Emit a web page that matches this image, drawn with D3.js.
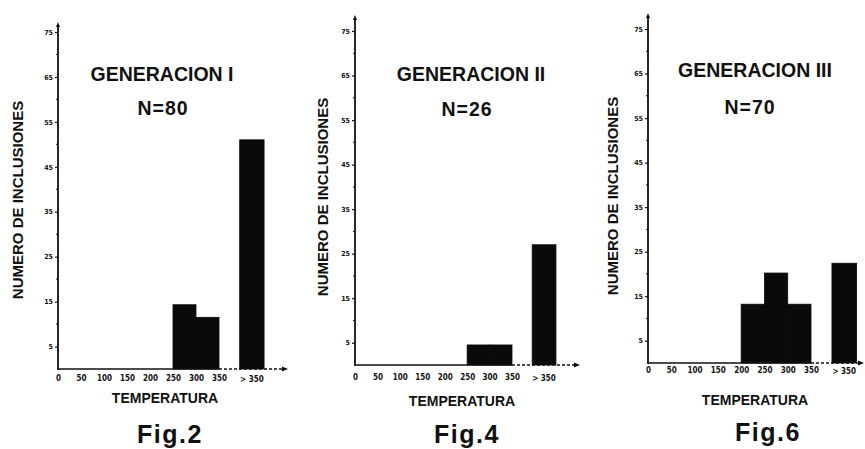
<!DOCTYPE html>
<html>
<head>
<meta charset="utf-8">
<script src="https://cdn.jsdelivr.net/npm/d3@7"></script>
<style>
  html, body { margin: 0; padding: 0; background: #fff; }
  svg { display: block; }
  text { font-family: Arial, "Liberation Sans", Helvetica, sans-serif; fill: #111; }
</style>
</head>
<body>
<svg id="chart" width="865" height="449"></svg>
<script>
// ---------- data ----------
const titles = ["GENERACION I", "GENERACION II", "GENERACION III"];
const nLabels = ["N=80", "N=26", "N=70"];
const figLabels = ["Fig.2", "Fig.4", "Fig.6"];
const xTickValues = [0, 50, 100, 150, 200, 250, 300, 350];
const xTickLabels = ["0", "50", "100", "150", "200", "250", "300", "350"];
const overLabel = "> 350";
const yTickValues = [5, 15, 25, 35, 45, 55, 65, 75];
const yMinorValues = [10, 20, 30, 40, 50, 60, 70];
const bins = ["200-250", "250-300", "300-350", ">350"];
const binStart = [200, 250, 300, 395];
const binEnd = [250, 300, 350, 448];
const gen1 = [0, 14.3, 11.5, 51];
const gen2 = [0, 4.5, 4.5, 27];
const gen3 = [13.2, 20.2, 13.2, 22.4];
const series = [gen1, gen2, gen3];
const yAxisTitle = "NUMERO DE INCLUSIONES";
const xAxisTitle = "TEMPERATURA";

// ---------- layout (pixels) ----------
const layout = [
  { x0: 58, x350: 219, yBase: 369, y75: 32, yTop: 22, xEnd: 288, title: [162, 81], n: [163, 115], ylab: [23, 200], xlab: [165, 403], fig: [170, 443], tickY: 382 },
  { x0: 355, x350: 512, yBase: 365, y75: 31, yTop: 15, xEnd: 580, title: [471, 81], n: [467, 116], ylab: [328, 197], xlab: [462, 406], fig: [467, 443], tickY: 381 },
  { x0: 648, x350: 811, yBase: 363, y75: 29, yTop: 13, xEnd: 864, title: [755, 77], n: [750, 114], ylab: [618, 196], xlab: [755, 405], fig: [768, 441], tickY: 374 }
];

const svg = d3.select("#chart");
svg.append("rect").attr("width", 865).attr("height", 449).attr("fill", "#fff");

layout.forEach((L, i) => {
  const g = svg.append("g");
  const x = d3.scaleLinear().domain([0, 350]).range([L.x0, L.x350]);
  const y = d3.scaleLinear().domain([0, 75]).range([L.yBase, L.y75]);
  const data = series[i];

  // bars
  g.selectAll("rect.bar")
    .data(bins.map((b, k) => ({ b, v: data[k], s: binStart[k], e: binEnd[k] })).filter(d => d.v > 0))
    .join("rect")
    .attr("class", "bar")
    .attr("x", d => x(d.s))
    .attr("width", d => x(d.e) - x(d.s))
    .attr("y", d => y(d.v))
    .attr("height", d => y(0) - y(d.v))
    .attr("fill", "#0a0a0a")
    .attr("stroke", "#0a0a0a")
    .attr("stroke-width", 0.8);

  // x axis baseline
  g.append("line")
    .attr("x1", L.x0).attr("x2", x(350))
    .attr("y1", L.yBase).attr("y2", L.yBase)
    .attr("stroke", "#111").attr("stroke-width", 1.6);
  g.append("line")
    .attr("x1", x(350)).attr("x2", L.xEnd - 4)
    .attr("y1", L.yBase).attr("y2", L.yBase)
    .attr("stroke", "#111").attr("stroke-width", 1.4)
    .attr("stroke-dasharray", "3,2");
  g.append("path")
    .attr("d", `M${L.xEnd},${L.yBase} l-6,-2.5 l0,5 z`)
    .attr("fill", "#111");

  // x axis ticks via d3 axis
  const xAxis = d3.axisBottom(x).tickValues(xTickValues)
    .tickFormat((d, k) => xTickLabels[k]).tickSize(0).tickPadding(0);
  const xa = g.append("g").attr("transform", `translate(0,${L.tickY - 7})`).call(xAxis);
  xa.select(".domain").remove();
  xa.selectAll("text")
    .attr("dy", "0.71em")
    .style("font-size", "8px").style("font-weight", "700")
    .style("font-family", "'DejaVu Sans Condensed', 'Liberation Sans Narrow', Arial, sans-serif")
    .attr("fill", "#111");
  g.append("text")
    .attr("x", x((binStart[3] + binEnd[3]) / 2))
    .attr("y", L.tickY)
    .attr("text-anchor", "middle")
    .style("font-size", "8px").style("font-weight", "700")
    .style("font-family", "'DejaVu Sans Condensed', 'Liberation Sans Narrow', Arial, sans-serif")
    .text(overLabel);

  // y axis
  const yAxis = d3.axisLeft(y).tickValues(yTickValues).tickSize(3).tickPadding(2);
  const ya = g.append("g").attr("transform", `translate(${L.x0},0)`).call(yAxis);
  ya.select(".domain").remove();
  ya.selectAll("line").attr("stroke", "#111").attr("stroke-width", 1.2);
  ya.selectAll("text")
    .style("font-size", "7px").style("font-weight", "700")
    .style("font-family", "'DejaVu Sans Condensed', Arial, sans-serif")
    .attr("fill", "#111");
  g.selectAll("line.minor")
    .data(yMinorValues)
    .join("line")
    .attr("class", "minor")
    .attr("x1", L.x0 - 2).attr("x2", L.x0)
    .attr("y1", d => y(d)).attr("y2", d => y(d))
    .attr("stroke", "#111").attr("stroke-width", 1);
  g.append("line")
    .attr("x1", L.x0).attr("x2", L.x0)
    .attr("y1", L.yBase + 1).attr("y2", L.yTop + 3)
    .attr("stroke", "#111").attr("stroke-width", 1.8);
  g.append("path")
    .attr("d", `M${L.x0},${L.yTop} l-2,5 l4,0 z`)
    .attr("fill", "#111");

  // texts
  g.append("text")
    .attr("x", L.title[0]).attr("y", L.title[1])
    .attr("text-anchor", "middle")
    .style("font-size", "19.5px").style("font-weight", "700")
    .text(titles[i]);
  g.append("text")
    .attr("x", L.n[0]).attr("y", L.n[1])
    .attr("text-anchor", "middle")
    .style("font-size", "19.5px").style("font-weight", "700")
    .style("letter-spacing", "1px")
    .text(nLabels[i]);
  g.append("text")
    .attr("transform", `translate(${L.ylab[0]},${L.ylab[1]}) rotate(-90)`)
    .attr("text-anchor", "middle")
    .style("font-size", "15px").style("font-weight", "700")
    .text(yAxisTitle);
  g.append("text")
    .attr("x", L.xlab[0]).attr("y", L.xlab[1])
    .attr("text-anchor", "middle")
    .style("font-size", "14px").style("font-weight", "700")
    .text(xAxisTitle);
  g.append("text")
    .attr("x", L.fig[0]).attr("y", L.fig[1])
    .attr("text-anchor", "middle")
    .style("font-size", "25px").style("font-weight", "700")
    .style("letter-spacing", "1.5px")
    .text(figLabels[i]);
});
</script>
</body>
</html>
